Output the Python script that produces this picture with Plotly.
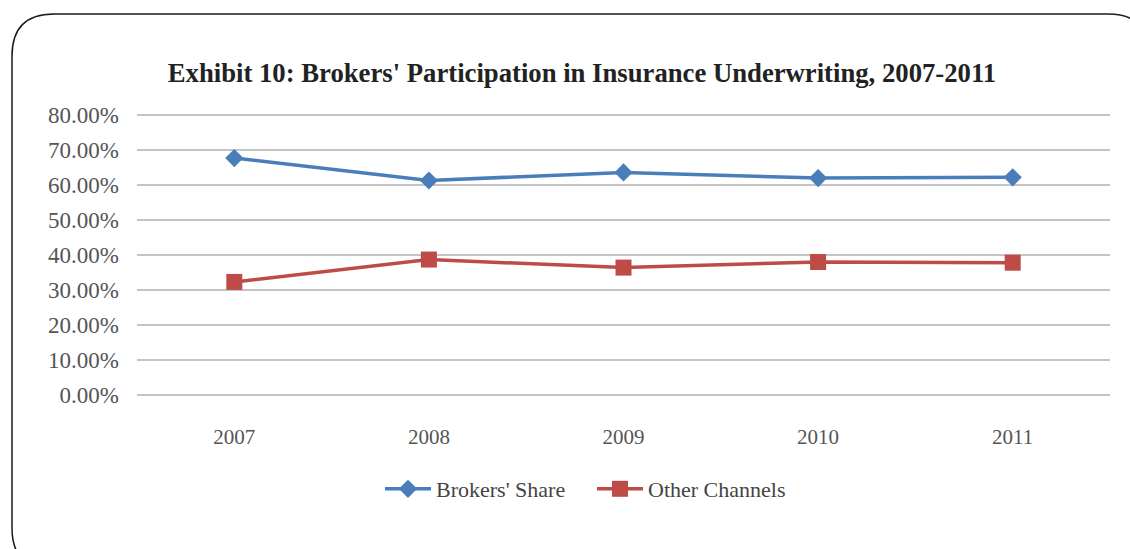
import plotly.graph_objects as go

years = ["2007", "2008", "2009", "2010", "2011"]
brokers_share = [67.7, 61.3, 63.6, 62.0, 62.2]
other_channels = [32.3, 38.7, 36.4, 38.0, 37.8]
y_ticks = [0, 10, 20, 30, 40, 50, 60, 70, 80]
y_tick_text = [f"{v:.2f}%" for v in y_ticks]

W, H = 1130, 549
ML, MR, MT, MB = 137, 20, 114, 153
PW, PH = W - ML - MR, H - MT - MB

BLUE = "#4A7EBB"
RED = "#BE4B48"
FONT = "Liberation Serif"

fig = go.Figure()
fig.add_trace(go.Scatter(
    x=years, y=brokers_share, name="Brokers' Share", mode="lines+markers",
    line=dict(color=BLUE, width=3.5),
    marker=dict(symbol="diamond", size=14, color=BLUE),
))
fig.add_trace(go.Scatter(
    x=years, y=other_channels, name="Other Channels", mode="lines+markers",
    line=dict(color=RED, width=3.5),
    marker=dict(symbol="square", size=16, color=RED),
))


def px_x(p):
    return (p - ML) / PW


def px_y(p):
    return (H - MB - p) / PH


# rounded outer frame, drawn in pixel positions converted to paper units
x0, y0, x1, y1, r = 12, 14, 1150, 570, 42
rx, ry = r / PW, r / PH
X0, X1 = px_x(x0), px_x(x1)
Y0, Y1 = px_y(y0), px_y(y1)
path = (
    f"M {X0 + rx} {Y0} L {X1 - rx} {Y0} Q {X1} {Y0} {X1} {Y0 - ry} "
    f"L {X1} {Y1 + ry} Q {X1} {Y1} {X1 - rx} {Y1} "
    f"L {X0 + rx} {Y1} Q {X0} {Y1} {X0} {Y1 + ry} "
    f"L {X0} {Y0 - ry} Q {X0} {Y0} {X0 + rx} {Y0} Z"
)
fig.add_shape(type="path", xref="paper", yref="paper", path=path,
              line=dict(color="#1a1a1a", width=1.5), layer="above")

fig.update_layout(
    width=W, height=H,
    margin=dict(l=ML, r=MR, t=MT, b=MB),
    paper_bgcolor="white", plot_bgcolor="white",
    font=dict(family=FONT, color="#555555", size=21),
    title=dict(
        text="<b>Exhibit 10: Brokers' Participation in Insurance Underwriting, 2007-2011</b>",
        x=0.515, xanchor="center", y=1 - 73 / H, yanchor="middle",
        font=dict(family=FONT, size=26.7, color="#222222"),
    ),
    showlegend=True,
    legend=dict(
        orientation="h", x=px_x(380), xanchor="left", y=px_y(489), yanchor="middle",
        font=dict(family=FONT, size=22, color="#444444"),
        itemwidth=46, entrywidth=151, entrywidthmode="pixels",
    ),
    xaxis=dict(
        type="category", range=[-0.5, 4.5], showgrid=False, zeroline=False,
        showline=False, ticks="", ticklabelstandoff=26,
        tickfont=dict(family=FONT, size=21, color="#555555"),
    ),
    yaxis=dict(
        range=[-0.3, 80.3], tickvals=y_ticks, ticktext=y_tick_text,
        showgrid=True, gridcolor="#c4c4c4", gridwidth=1.6,
        zeroline=False, showline=False, ticks="", ticklabelstandoff=17,
        tickfont=dict(family=FONT, size=23, color="#555555"),
    ),
)

fig.write_html("out.html")
